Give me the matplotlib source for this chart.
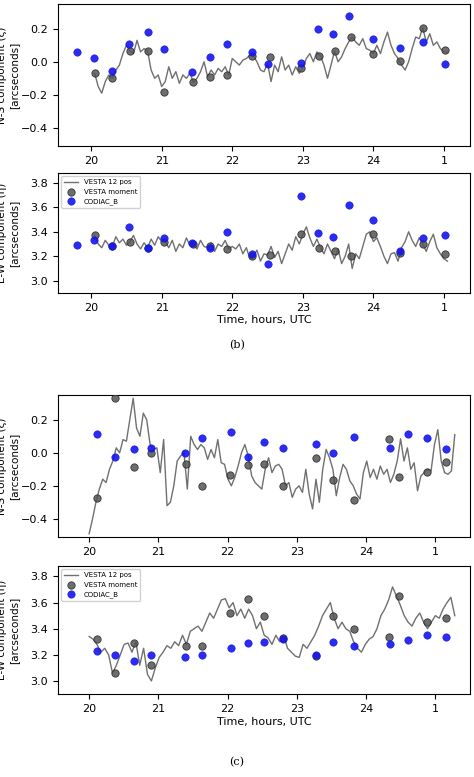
import numpy as np
import matplotlib
matplotlib.use('Agg')
import matplotlib.pyplot as plt

# ---- panel (b) ----
b_ns_line = [-0.07, -0.15, -0.19, -0.12, -0.08, -0.10, -0.05, -0.02, 0.05, 0.10,
             0.065, 0.05, 0.13, 0.06, 0.08, 0.065, -0.05, -0.10, -0.08, -0.15,
             -0.12, -0.03, -0.10, -0.06, -0.13, -0.08, -0.10, -0.07, -0.125, -0.10,
             -0.06, 0.0, -0.09, -0.05, -0.08, -0.04, -0.06, -0.03, -0.08, 0.02,
             0.0, -0.02, 0.01, 0.02, 0.04, 0.035, 0.0, -0.05, -0.06, -0.01,
             -0.12, -0.02, -0.06, 0.03, -0.05, -0.02, -0.08, -0.03, -0.07, -0.035,
             0.02, 0.05, 0.0, 0.06, 0.035, -0.02, -0.10, -0.02, 0.065, 0.0,
             0.03, 0.08, 0.12, 0.15, 0.12, 0.10, 0.14, 0.08, 0.07, 0.05,
             0.10, 0.05, 0.12, 0.18, 0.10, 0.05, 0.02, -0.02, -0.05, 0.0,
             0.08, 0.15, 0.14, 0.205, 0.12, 0.17, 0.10, 0.12, 0.08, 0.06, 0.06]
b_ew_line = [3.37, 3.30, 3.27, 3.33, 3.29, 3.28, 3.36, 3.31, 3.34, 3.29,
             3.32, 3.37, 3.30, 3.26, 3.31, 3.27, 3.34, 3.29, 3.36, 3.32,
             3.32, 3.27, 3.33, 3.24, 3.30, 3.27, 3.35, 3.29, 3.30, 3.26,
             3.33, 3.28, 3.27, 3.31, 3.24, 3.30, 3.28, 3.33, 3.26, 3.28,
             3.26, 3.30, 3.22, 3.27, 3.18, 3.20, 3.25, 3.16, 3.22, 3.21,
             3.28, 3.19, 3.24, 3.14, 3.22, 3.30, 3.25, 3.36, 3.30, 3.38,
             3.44, 3.35, 3.28, 3.34, 3.27, 3.22, 3.30, 3.24, 3.18, 3.26,
             3.14, 3.20, 3.30, 3.10, 3.22, 3.18, 3.28, 3.38, 3.40, 3.32,
             3.35, 3.28, 3.20, 3.14, 3.22, 3.23, 3.16, 3.27, 3.32, 3.40,
             3.33, 3.28, 3.35, 3.30, 3.24, 3.32, 3.38, 3.27, 3.22, 3.18, 3.16]
b_mom_t = [20.05, 20.3, 20.55, 20.8, 21.03, 21.45, 21.68, 21.93, 22.28, 22.53,
           22.98, 23.23, 23.45, 23.68, 24.0, 24.38, 24.7, 25.02]
b_mom_ns = [-0.07, -0.10, 0.065, 0.065, -0.185, -0.125, -0.09, -0.08, 0.035, 0.03,
            -0.035, 0.035, 0.065, 0.15, 0.05, 0.005, 0.205, 0.07]
b_mom_ew = [3.37, 3.28, 3.32, 3.27, 3.32, 3.30, 3.28, 3.26, 3.20, 3.21,
            3.38, 3.27, 3.24, 3.20, 3.38, 3.23, 3.30, 3.22]
b_cod_t = [19.8, 20.04, 20.29, 20.53, 20.8, 21.03, 21.43, 21.68, 21.93, 22.28,
           22.5, 22.98, 23.22, 23.43, 23.65, 24.0, 24.38, 24.7, 25.02]
b_cod_ns = [0.057, 0.025, -0.057, 0.11, 0.18, 0.08, -0.06, 0.03, 0.105, 0.06,
            -0.015, -0.005, 0.2, 0.17, 0.28, 0.14, 0.085, 0.12, -0.015]
b_cod_ew = [3.29, 3.33, 3.28, 3.44, 3.27, 3.35, 3.31, 3.27, 3.40, 3.22,
            3.14, 3.69, 3.39, 3.36, 3.62, 3.50, 3.24, 3.35, 3.37]

# ---- panel (c) ----
c_ns_line = [-0.49, -0.40, -0.30, -0.22, -0.16, -0.18, -0.10, -0.05, 0.03, 0.0,
             0.08, 0.07, 0.20, 0.33, 0.15, 0.10, 0.24, 0.20, 0.05, 0.02,
             0.03, -0.12, 0.08, -0.32, -0.30, -0.20, -0.05, -0.02, 0.0, -0.22,
             0.10, 0.05, 0.02, 0.05, 0.03, -0.04, 0.02, -0.03, 0.08, -0.06,
             -0.07, -0.16, -0.20, -0.15, -0.08, 0.0, 0.05, -0.02, -0.14, -0.18,
             -0.20, -0.22, -0.10, -0.03, -0.12, -0.08, -0.07, -0.10, -0.20, -0.18,
             -0.27, -0.22, -0.20, -0.24, -0.10, -0.25, -0.34, -0.16, -0.30, -0.10,
             0.02, -0.03, -0.10, -0.26, -0.15, -0.07, -0.10, -0.17, -0.20, -0.25,
             -0.28, -0.12, -0.05, -0.15, -0.10, -0.16, -0.08, -0.13, -0.10, -0.18,
             -0.13, -0.05, 0.085, -0.05, 0.03, -0.10, -0.06, -0.23, -0.14, -0.12,
             -0.10, -0.11, 0.05, 0.14, -0.05, -0.12, -0.13, -0.11, 0.11]
c_ew_line = [3.34, 3.32, 3.28, 3.22, 3.25, 3.20, 3.06, 3.12, 3.20, 3.28,
             3.29, 3.22, 3.30, 3.12, 3.25, 3.05, 3.00, 3.10, 3.18, 3.22,
             3.27, 3.25, 3.30, 3.27, 3.35, 3.28, 3.38, 3.40, 3.42, 3.38,
             3.45, 3.52, 3.48, 3.55, 3.62, 3.63, 3.56, 3.60, 3.50, 3.55,
             3.48, 3.55, 3.50, 3.40, 3.45, 3.35, 3.33, 3.28, 3.35, 3.30,
             3.35, 3.25, 3.22, 3.19, 3.18, 3.28, 3.25, 3.30, 3.35, 3.42,
             3.50, 3.55, 3.60, 3.48, 3.40, 3.45, 3.40, 3.38, 3.30, 3.25,
             3.22, 3.28, 3.32, 3.34, 3.40, 3.50, 3.55, 3.62, 3.72, 3.65,
             3.58, 3.50, 3.45, 3.42, 3.48, 3.52, 3.45, 3.40, 3.45, 3.50,
             3.48, 3.55, 3.60, 3.64, 3.50]
c_mom_t = [20.11, 20.38, 20.65, 20.9, 21.4, 21.63, 22.04, 22.29, 22.52, 22.8,
           23.28, 23.52, 23.82, 24.33, 24.47, 24.88, 25.15]
c_mom_ns = [-0.275, 0.33, -0.085, 0.0, -0.065, -0.2, -0.135, -0.075, -0.065, -0.2,
            -0.03, -0.165, -0.285, 0.085, -0.145, -0.115, -0.055]
c_mom_ew = [3.32, 3.06, 3.29, 3.12, 3.27, 3.27, 3.52, 3.63, 3.50, 3.33,
            3.19, 3.50, 3.40, 3.34, 3.65, 3.45, 3.48]
c_cod_t = [20.11, 20.38, 20.65, 20.9, 21.39, 21.63, 22.05, 22.29, 22.52, 22.8,
           23.28, 23.52, 23.82, 24.34, 24.6, 24.88, 25.15]
c_cod_ns = [0.115, -0.025, 0.025, 0.03, 0.0, 0.09, 0.125, -0.025, 0.065, 0.03,
            0.055, 0.0, 0.095, 0.03, 0.115, 0.09, 0.025]
c_cod_ew = [3.23, 3.20, 3.15, 3.20, 3.18, 3.20, 3.25, 3.29, 3.30, 3.32,
            3.20, 3.30, 3.27, 3.28, 3.31, 3.35, 3.34]

hour_ticks = [20, 21, 22, 23, 24, 25]
hour_labels = ['20', '21', '22', '23', '24', '1']

fig = plt.figure(figsize=(4.74, 7.77), dpi=100)
H = 777.0
W = 474.0


def make_ax(top, bottom):
    return fig.add_axes([58 / W, 1 - bottom / H, (470 - 58) / W, (bottom - top) / H])


def draw(ax, t0, t1, line, mt, mv, ct, cv, ns, xlim, legend, xlabel):
    t = np.linspace(t0, t1, len(line))
    ax.plot(t, line, color='#707070', lw=1.0, label='VESTA 12 pos')
    ax.scatter(mt, mv, s=28, color='#555555', edgecolor='#222222', lw=0.6,
               alpha=0.85, zorder=3, label='VESTA moment')
    ax.scatter(ct, cv, s=28, color='#1515ee', edgecolor='#1515ee', lw=0.5,
               alpha=0.9, zorder=3, label='CODIAC_B')
    ax.set_xlim(*xlim)
    ax.set_xticks(hour_ticks)
    ax.set_xticklabels(hour_labels)
    ax.tick_params(labelsize=8)
    if ns:
        ax.set_ylim(-0.51, 0.35)
        ax.set_yticks([-0.4, -0.2, 0.0, 0.2])
        ax.set_ylabel('N-S component (ξ)\n[arcseconds]', fontsize=7.5)
    else:
        ax.set_ylim(2.9, 3.88)
        ax.set_yticks([3.0, 3.2, 3.4, 3.6, 3.8])
        ax.set_ylabel('E-W component (η)\n[arcseconds]', fontsize=7.5)
    ax.yaxis.set_label_coords(-0.095, 0.5)
    if legend:
        ax.legend(loc='upper left', fontsize=5, framealpha=0.9)
    if xlabel:
        ax.set_xlabel('Time, hours, UTC', fontsize=8, labelpad=2)


ax1 = make_ax(4, 146)
draw(ax1, 20.05, 25.05, b_ns_line, b_mom_t, b_mom_ns, b_cod_t, b_cod_ns, True,
     (19.53, 25.37), False, False)
ax2 = make_ax(173, 293)
draw(ax2, 20.05, 25.05, b_ew_line, b_mom_t, b_mom_ew, b_cod_t, b_cod_ew, False,
     (19.53, 25.37), True, True)
fig.text(0.5, 1 - 345 / H, '(b)', ha='center', va='center', fontsize=8,
         family='DejaVu Serif')

ax3 = make_ax(395, 537)
draw(ax3, 20.0, 25.28, c_ns_line, c_mom_t, c_mom_ns, c_cod_t, c_cod_ns, True,
     (19.55, 25.5), False, False)
ax4 = make_ax(566, 694)
draw(ax4, 20.0, 25.28, c_ew_line, c_mom_t, c_mom_ew, c_cod_t, c_cod_ew, False,
     (19.55, 25.5), True, True)
fig.text(0.5, 1 - 762 / H, '(c)', ha='center', va='center', fontsize=8,
         family='DejaVu Serif')

fig.savefig('out.png', dpi=100)
